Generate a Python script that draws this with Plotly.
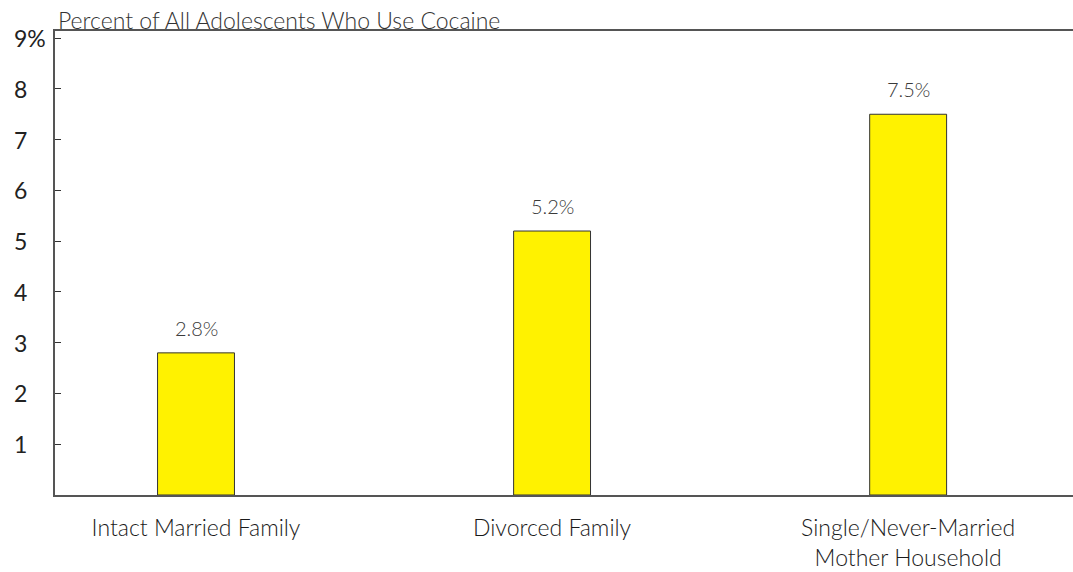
import plotly.graph_objects as go

categories = ["Intact Married Family", "Divorced Family", "Single/Never-Married<br>Mother Household"]
values = [2.8, 5.2, 7.5]
value_labels = ["2.8%", "5.2%", "7.5%"]
y_ticks = [1, 2, 3, 4, 5, 6, 7, 8, 9]
y_tick_labels = ["1", "2", "3", "4", "5", "6", "7", "8", "9%"]
title_text = "Percent of All Adolescents Who Use Cocaine"

FONT = "Lato"
TXT = "#222222"
AX = "#555555"

fig = go.Figure()
fig.add_trace(go.Bar(
    x=categories, y=values, width=0.216,
    marker=dict(color="#FFF200", line=dict(color="#333333", width=1)),
    hoverinfo="skip",
))

annotations = []
for c, v, t in zip(categories, values, value_labels):
    annotations.append(dict(x=c, y=v, xref="x", yref="y", text=t, showarrow=False,
                            yanchor="middle", yshift=25,
                            font=dict(family=FONT, size=20, color="#3a3a3a", weight=300)))
for v, t in zip(y_ticks, y_tick_labels):
    annotations.append(dict(x=-0.0422, y=v, xref="paper", yref="y", text=t, showarrow=False,
                            xanchor="left", yanchor="middle",
                            font=dict(family=FONT, size=23, color=TXT)))
annotations.append(dict(x=0.001, y=1, xref="paper", yref="paper", text=title_text, showarrow=False,
                        xanchor="left", yanchor="middle", yshift=11,
                        font=dict(family=FONT, size=23, color="#333333", weight=300)))

fig.update_layout(
    width=1073, height=572,
    margin=dict(l=55, r=0, t=31, b=77),
    paper_bgcolor="white", plot_bgcolor="white",
    showlegend=False,
    annotations=annotations,
    xaxis=dict(range=[-0.396, 2.463], showline=True, linecolor=AX, linewidth=1.5, mirror=True,
               ticks="", showgrid=False, ticklabelstandoff=12, automargin=False,
               tickfont=dict(family=FONT, size=23, color="#1a1a1a", weight=300)),
    yaxis=dict(range=[0, 9.14], showline=True, linecolor=AX, linewidth=2, mirror=False,
               tickvals=y_ticks, ticktext=["" for _ in y_ticks], ticks="inside", ticklen=6,
               tickcolor="#333333", tickwidth=1, showgrid=False, zeroline=False, automargin=False),
)

fig.write_html("out.html", config={"displayModeBar": False},
               post_script="document.body.style.margin='0';document.body.style.padding='0';")
